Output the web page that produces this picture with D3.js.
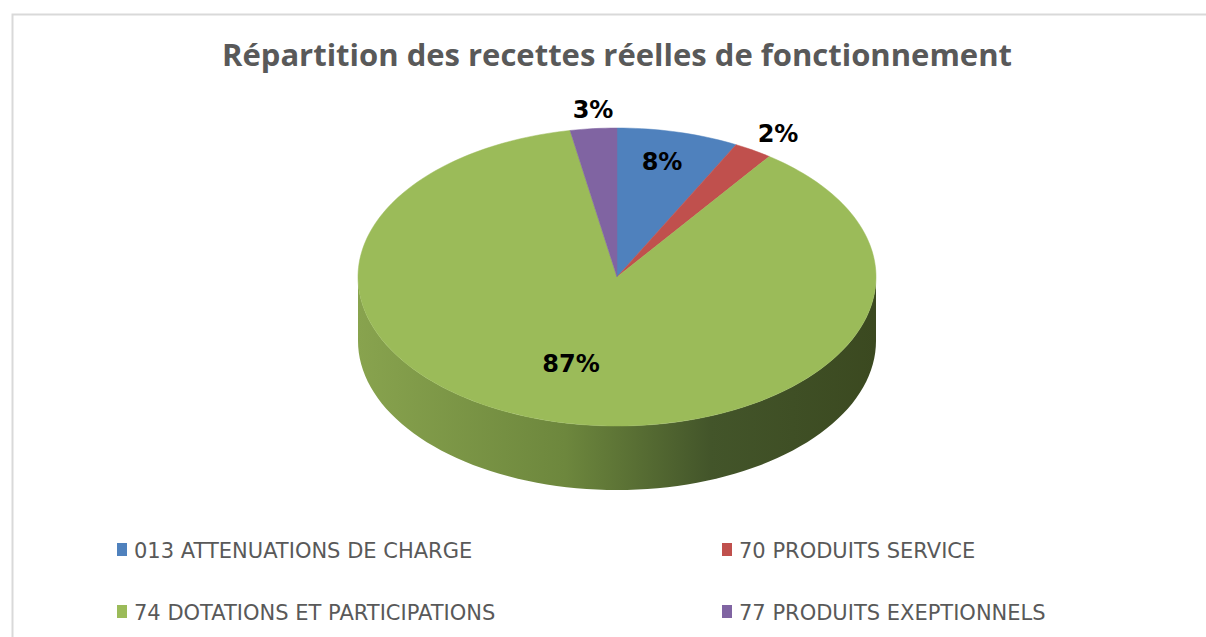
<!DOCTYPE html>
<html>
<head>
<meta charset="utf-8">
<script src="https://cdn.jsdelivr.net/npm/d3@7"></script>
<style>
  body { margin: 0; background: #fff; }
</style>
</head>
<body>
<svg id="chart" width="1206" height="637"></svg>
<script>
// Data
const categories = ['013 ATTENUATIONS DE CHARGE', '70 PRODUITS SERVICE', '74 DOTATIONS ET PARTICIPATIONS', '77 PRODUITS EXEPTIONNELS'];
const values = [7.6, 2.4, 87.1, 2.9];
const colours = ['#4f81bd', '#c0504d', '#9bbb59', '#8064a2'];
const title = 'Répartition des recettes réelles de fonctionnement';

const svg = d3.select('#chart');
const width = +svg.attr('width');
const height = +svg.attr('height');

// chart frame
svg.append('rect')
  .attr('x', 12.5).attr('y', 14.5)
  .attr('width', width).attr('height', height)
  .attr('fill', '#fff').attr('stroke', '#d9d9d9').attr('stroke-width', 2);

svg.append('text')
  .attr('x', 617).attr('y', 66)
  .attr('text-anchor', 'middle')
  .attr('font-family', 'Open Sans, sans-serif')
  .attr('font-weight', 'bold')
  .attr('font-size', 31)
  .attr('fill', '#595959')
  .attr('textLength', 790)
  .attr('lengthAdjust', 'spacingAndGlyphs')
  .text(title);

// 3D pie geometry
const cx = 617, cy = 277, rx = 259, ry = 149, depth = 64;
const pt = (a, dy = 0) => [cx + rx * Math.sin(a), cy - ry * Math.cos(a) + dy];

const pie = d3.pie().sort(null).value(d => d);
const arcs = pie(values).map((d, i) => ({ ...d, i }));

const defs = svg.append('defs');
const grad = defs.append('linearGradient')
  .attr('id', 'sideGrad')
  .attr('gradientUnits', 'userSpaceOnUse')
  .attr('x1', cx - rx).attr('x2', cx + rx).attr('y1', 0).attr('y2', 0);
grad.append('stop').attr('offset', '0%').attr('stop-color', '#88a34e');
grad.append('stop').attr('offset', '40%').attr('stop-color', '#6d873d');
grad.append('stop').attr('offset', '68%').attr('stop-color', '#43552a');
grad.append('stop').attr('offset', '100%').attr('stop-color', '#3b4920');

const sideFill = i => i === 2 ? 'url(#sideGrad)' : d3.color(colours[i]).darker(1);

// side walls (front half only: angles between PI/2 and 3PI/2)
const sides = svg.append('g');
arcs.forEach(d => {
  const a0 = Math.max(d.startAngle, Math.PI / 2);
  const a1 = Math.min(d.endAngle, 3 * Math.PI / 2);
  if (a1 <= a0) return;
  const n = 80;
  const top = d3.range(n + 1).map(k => pt(a0 + (a1 - a0) * k / n));
  const bot = top.map(([x, y]) => [x, y + depth]).reverse();
  sides.append('path')
    .attr('d', d3.line()(top.concat(bot)) + 'Z')
    .attr('fill', sideFill(d.i));
});

// top face
const tops = svg.append('g');
arcs.forEach(d => {
  const n = Math.max(4, Math.ceil((d.endAngle - d.startAngle) * 40));
  const pts = d3.range(n + 1).map(k => pt(d.startAngle + (d.endAngle - d.startAngle) * k / n));
  tops.append('path')
    .attr('d', d3.line()([[cx, cy]].concat(pts)) + 'Z')
    .attr('fill', colours[d.i])
    .attr('stroke', colours[d.i]).attr('stroke-width', 0.5);
});

// labels
const labelPos = [[662, 161], [778, 133], [571, 363], [593, 109]];
svg.append('g').selectAll('text').data(arcs).join('text')
  .attr('x', d => labelPos[d.i][0])
  .attr('y', d => labelPos[d.i][1])
  .attr('dy', '0.36em')
  .attr('text-anchor', 'middle')
  .attr('font-family', 'DejaVu Sans, sans-serif')
  .attr('font-weight', 'bold')
  .attr('font-size', 24)
  .attr('fill', '#000')
  .text(d => Math.round(d.data) + '%');

// legend
const legendX = [117, 722];
const legendY = [550, 612];
const legend = svg.append('g').selectAll('g').data(categories).join('g')
  .attr('transform', (d, i) => `translate(${legendX[i % 2]},${legendY[Math.floor(i / 2)]})`);
legend.append('rect')
  .attr('x', 0).attr('y', -7).attr('width', 10).attr('height', 13)
  .attr('fill', (d, i) => colours[i]);
legend.append('text')
  .attr('x', 17).attr('y', 0).attr('dy', '0.36em')
  .attr('font-family', 'DejaVu Sans, sans-serif')
  .attr('font-size', 21)
  .attr('fill', '#595959')
  .text(d => d);
</script>
</body>
</html>
